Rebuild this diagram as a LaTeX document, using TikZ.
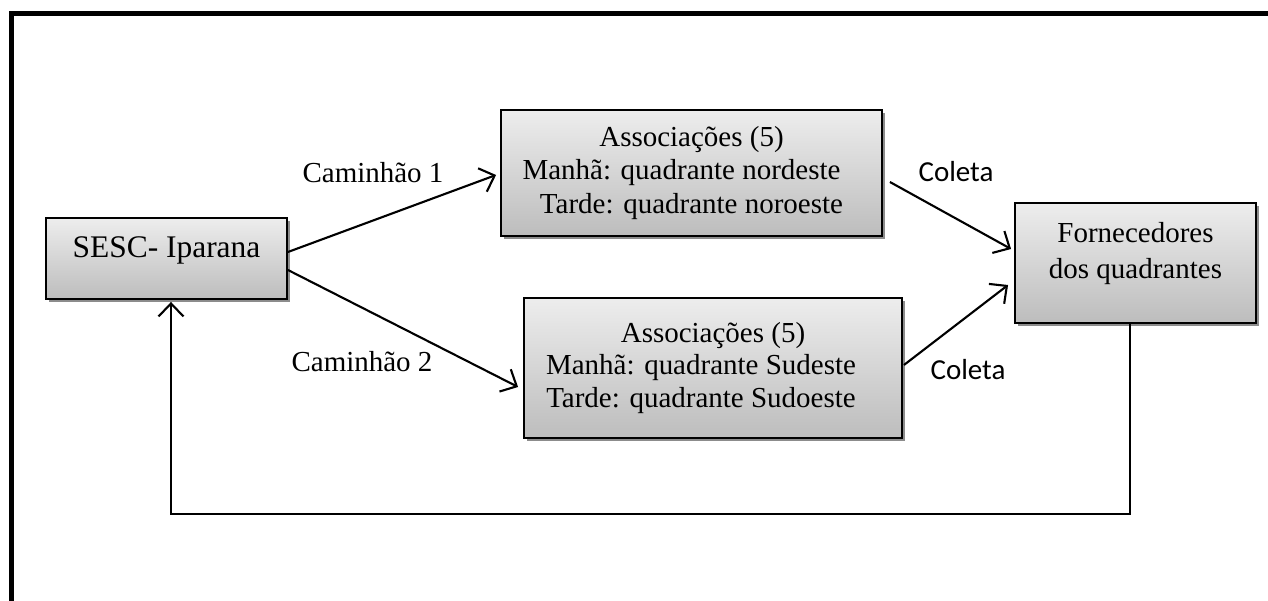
\documentclass[tikz,border=0pt]{standalone}
\usepackage{fontspec}
\setmainfont{Liberation Serif}
\newfontfamily\calibrifont{Carlito}
\usetikzlibrary{arrows.meta, shadows, positioning}

\begin{document}
\begin{tikzpicture}[x=0.02cm, y=-0.02cm,
    caixa/.style={draw=black, line width=1.1pt, top color=black!7, bottom color=black!26,
      drop shadow={shadow xshift=0.06cm, shadow yshift=-0.06cm, fill=black!45, opacity=1},
      align=center, inner sep=0pt},
    seta/.style={line width=1.2pt, -{Straight Barb[length=0.26cm, width=0.5cm]}},
    rotulo/.style={font=\fontsize{16.5}{19}\selectfont, inner sep=0pt}]

    \useasboundingbox (0,0) rectangle (1268,601);

    % --- moldura ---
    \draw[line width=0.1cm] (11.5,640) |- (1300,13.5);

    % --- caixas ---
    \node[caixa, minimum width=4.82cm, minimum height=1.62cm,
      label={[font=\fontsize{17.9}{20}\selectfont, yshift=0.16cm]center:SESC- Iparana}] (sesc) at (166.5,258.5) {};

    \node[caixa, minimum width=7.62cm, minimum height=2.52cm, font=\fontsize{16.5}{19.3}\selectfont] (assocne) at (691.5,173)
      {Associações (5)\\ Manhã: quadrante nordeste\hspace*{0.4cm}\mbox{}\\ Tarde: quadrante noroeste};

    \node[caixa, minimum width=7.56cm, minimum height=2.8cm, font=\fontsize{16.5}{18.3}\selectfont] (assocse) at (713,368)
      {Associações (5)\\ Manhã: quadrante Sudeste\hspace*{0.48cm}\mbox{}\\ Tarde: quadrante Sudoeste\hspace*{0.48cm}\mbox{}};

    \node[caixa, minimum width=4.82cm, minimum height=2.4cm,
      label={[font=\fontsize{16.5}{21}\selectfont, align=center, yshift=0.19cm]center:Fornecedores\\dos quadrantes}] (fornec) at (1135.5,263) {};

    % --- rotas dos caminhoes ---
    \draw[seta] ([yshift=0.13cm]sesc.east) -- ([xshift=-0.08cm, yshift=-0.04cm]assocne.west);
    \draw[seta] ([yshift=-0.23cm]sesc.east) -- ([xshift=-0.1cm, yshift=-0.38cm]assocse.west);
    \node[rotulo] (cam1) at (373,173) {Caminhão 1};
    \node[rotulo] (cam2) at (362,362) {Caminhão 2};

    % --- coleta ---
    \draw[seta] ([xshift=0.14cm, yshift=-0.18cm]assocne.east) -- ([xshift=-0.06cm, yshift=0.28cm]fornec.west);
    \draw[seta] ([xshift=0.02cm, yshift=0.06cm]assocse.east) -- ([xshift=-0.12cm, yshift=-0.44cm]fornec.west);
    \node[rotulo, font=\calibrifont\fontsize{16.5}{19}\selectfont] (coleta1) at (956,172) {Coleta};
    \node[rotulo, font=\calibrifont\fontsize{16.5}{19}\selectfont] (coleta2) at (968,370) {Coleta};

    % --- retorno ---
    \draw[seta] ([xshift=-0.11cm]fornec.south) -- ++(0,190) -| ([xshift=0.09cm, yshift=-0.04cm]sesc.south);
\end{tikzpicture}
\end{document}
